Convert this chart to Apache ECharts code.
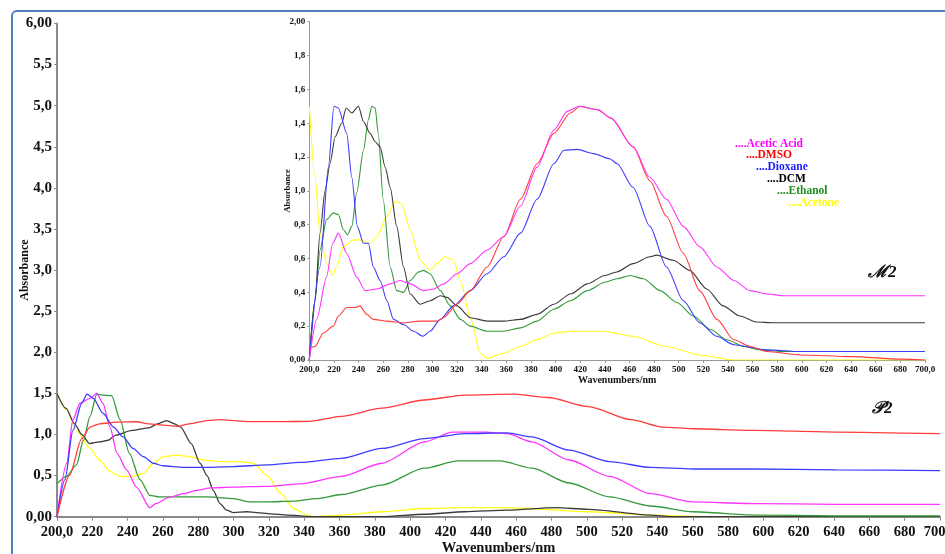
<!DOCTYPE html>
<html>
<head>
<meta charset="utf-8">
<script src="https://cdn.jsdelivr.net/npm/echarts@6/dist/echarts.min.js"></script>
<style>
  html, body { margin: 0; padding: 0; background: #ffffff; }
  #chart { width: 945px; height: 554px; }
</style>
</head>
<body>
<div id="chart"></div>
<script>
// ---- P2 spectra (main panel): [wavelength nm, absorbance] ----
const p2AceticAcid = [[200,0],[205.5,0.65],[209,1.18],[213,1.38],[218.7,1.44],[222.5,1.5],[226,1.38],[230,1.09],[234,0.77],[239.4,0.57],[245,0.36],[252.6,0.11],[256,0.16],[264,0.24],[271.5,0.28],[279,0.32],[287,0.35],[300,0.36],[319,0.37],[338,0.40],[361,0.49],[384,0.65],[408,0.91],[424,1.03],[443,1.03],[455,1.01],[469,0.91],[490,0.69],[513,0.49],[536,0.28],[560,0.18],[595,0.16],[641,0.15],[700,0.15]];
const p2DMSO = [[200,0],[207,0.5],[214,0.95],[218.7,1.09],[224,1.13],[234,1.15],[245,1.155],[252,1.13],[262,1.11],[268,1.10],[275,1.13],[285,1.17],[292,1.18],[300,1.17],[309,1.156],[328,1.156],[343,1.16],[361,1.22],[384,1.32],[408,1.42],[431,1.48],[459,1.49],[478,1.45],[501,1.34],[525,1.18],[543,1.09],[560,1.07],[595,1.05],[641,1.03],[700,1.01]];
const p2Dioxane = [[200,0],[204.5,0.45],[209,1.05],[214,1.38],[217,1.49],[220.6,1.44],[226,1.26],[232,1.09],[237.5,0.97],[243,0.83],[249,0.73],[254.5,0.65],[260,0.62],[271.5,0.6],[286,0.6],[300,0.61],[319,0.63],[338,0.66],[361,0.71],[384,0.83],[408,0.95],[431,1.01],[455,1.02],[469,0.97],[490,0.81],[513,0.67],[536,0.6],[560,0.58],[595,0.58],[641,0.57],[700,0.56]];
const p2DCM = [[200,1.5],[205,1.32],[210,1.13],[214,1.0],[218.5,0.89],[224,0.91],[229,0.93],[233,0.99],[242.5,1.05],[252,1.08],[257,1.13],[262,1.17],[266.6,1.13],[270,1.09],[276,0.89],[281,0.65],[285,0.5],[288.5,0.32],[292.3,0.16],[296,0.08],[300,0.05],[307.5,0.06],[313,0.05],[321,0.035],[330.5,0.02],[338,0.01],[345,0],[384,0],[408,0.03],[431,0.06],[455,0.08],[482,0.11],[501,0.09],[536,0.02],[548,0],[700,0]];
const p2Ethanol = [[200,0.4],[205.5,0.49],[211,0.63],[215,0.93],[218.7,1.22],[222.5,1.49],[226,1.48],[231,1.47],[235.7,1.18],[241,0.77],[247,0.45],[252.6,0.26],[258,0.24],[286,0.24],[300,0.22],[309.5,0.18],[319,0.18],[334,0.19],[347,0.22],[361,0.27],[384,0.385],[408,0.59],[427,0.68],[451,0.68],[469,0.59],[490,0.41],[513,0.24],[536,0.13],[560,0.06],[595,0.02],[641,0.01],[700,0.01]];
const p2Acetone = [[200,1.5],[205.5,1.3],[211,1.05],[218.7,0.83],[224,0.69],[230,0.55],[235.7,0.49],[243,0.49],[249,0.53],[254.7,0.65],[260,0.73],[267.7,0.75],[275,0.73],[283,0.69],[292,0.67],[303.7,0.67],[311,0.65],[319,0.5],[326.7,0.28],[334,0.1],[342,0.02],[345,0],[361,0.02],[384,0.06],[408,0.1],[431,0.11],[455,0.11],[466,0.1],[501,0.06],[536,0.02],[571,0],[700,0]];

// ---- M2 spectra (inset panel) ----
const m2AceticAcid = [[200,0],[206,0.24],[214,0.49],[219,0.69],[223.6,0.75],[230.4,0.63],[238.5,0.49],[245.3,0.41],[254.8,0.42],[265.7,0.45],[273.8,0.47],[282,0.45],[292.8,0.41],[301,0.42],[309,0.45],[320,0.51],[330.8,0.57],[344.4,0.65],[358,0.73],[371.5,0.91],[385,1.14],[398.6,1.36],[409.5,1.47],[419,1.5],[434,1.48],[445,1.43],[463,1.26],[476.6,1.08],[490,0.95],[503.8,0.79],[517,0.67],[531,0.55],[544.7,0.47],[558,0.41],[571.8,0.39],[585,0.38],[700,0.38]];
const m2DMSO = [[200,0.07],[204.6,0.08],[211.4,0.16],[219.5,0.2],[223.6,0.26],[230.4,0.31],[237,0.31],[241,0.32],[246.7,0.27],[252,0.24],[263,0.23],[276.5,0.22],[290,0.23],[303.7,0.23],[309,0.25],[320,0.33],[330.8,0.41],[344.4,0.55],[358,0.73],[371.5,0.95],[385,1.16],[398.6,1.34],[412,1.46],[420,1.5],[434,1.48],[445,1.43],[463,1.26],[476.6,1.06],[490,0.85],[503.8,0.63],[517,0.41],[531,0.24],[544.7,0.12],[558,0.08],[571.8,0.05],[599,0.03],[640,0.02],[680,0.005],[700,0]];
const m2Dioxane = [[200,0],[208.7,0.55],[215.5,1.14],[220,1.5],[223.6,1.49],[230.4,1.34],[234.5,1.08],[239,0.79],[244,0.69],[248,0.69],[252,0.55],[257.5,0.47],[263,0.35],[268.4,0.24],[276.5,0.21],[284.7,0.17],[292.3,0.14],[298,0.17],[306.4,0.24],[317,0.32],[330.8,0.41],[344.4,0.51],[358,0.61],[371.5,0.75],[385,0.95],[398.6,1.16],[406.8,1.24],[417.6,1.245],[431,1.22],[444,1.19],[450,1.16],[463,1.02],[476.6,0.79],[490,0.55],[503.8,0.35],[517,0.22],[531,0.14],[544.7,0.09],[571.8,0.06],[599,0.05],[700,0.05]];
const m2DCM = [[200,0],[204.6,0.35],[208.7,0.75],[212.8,1.0],[216.8,1.16],[221,1.32],[226.3,1.4],[229.9,1.49],[234.5,1.46],[239.9,1.5],[244,1.41],[249.4,1.34],[253.5,1.29],[257.5,1.26],[261.6,1.14],[265.7,1.02],[271,0.79],[276.5,0.55],[281.9,0.39],[290,0.33],[298,0.35],[306.4,0.38],[311.8,0.37],[320,0.32],[330.8,0.25],[344.4,0.23],[358,0.23],[371.5,0.24],[385,0.27],[398.6,0.33],[412,0.39],[425.8,0.45],[440,0.50],[449.7,0.52],[463,0.57],[476.6,0.61],[482,0.62],[495.5,0.59],[509,0.53],[522.7,0.42],[536,0.32],[549.8,0.26],[563,0.225],[577,0.22],[700,0.22]];
const m2Ethanol = [[200,0],[204.6,0.35],[208.7,0.65],[214,0.83],[219.5,0.87],[223.6,0.86],[227.7,0.77],[231,0.74],[234.5,0.79],[238.5,0.99],[244,1.24],[248,1.42],[250.7,1.5],[253.5,1.49],[256,1.34],[260,0.95],[265.7,0.55],[271,0.41],[276.5,0.40],[282,0.47],[288.7,0.52],[292.8,0.53],[298,0.51],[306.4,0.41],[314.5,0.32],[322.7,0.24],[330.8,0.2],[344.4,0.17],[358,0.17],[371.5,0.19],[385,0.23],[398.6,0.30],[412,0.35],[425.8,0.41],[440,0.46],[449.7,0.48],[460.6,0.50],[471.4,0.48],[485,0.41],[498.6,0.34],[512,0.26],[525.8,0.18],[539,0.12],[553,0.08],[566,0.06],[585,0.05],[700,0.05]];
const m2Acetone = [[200,1.5],[204.6,1.08],[208.7,0.75],[214,0.57],[219,0.5],[222,0.55],[227.7,0.67],[236,0.71],[241,0.71],[249,0.69],[255,0.73],[263,0.85],[270.5,0.94],[275,0.92],[282,0.77],[290,0.59],[298,0.53],[303.7,0.57],[310,0.61],[317,0.59],[322.7,0.47],[331,0.24],[339,0.04],[344,0.01],[358,0.04],[371.5,0.08],[385,0.12],[398.6,0.16],[412,0.17],[439,0.17],[463,0.14],[490,0.08],[517,0.03],[544,0.0],[700,0]];

// ---- legend entries and panel tags ----
const solventNames = ['Acetic Acid', 'DMSO', 'Dioxane', 'DCM', 'Ethanol', 'Acetone'];
const panelTags = ['\u2133' + '2', '\uD835\uDCAB' + '2'];

const lineColors = { 'Acetic Acid': '#ff33ff', 'DMSO': '#ff3b3b', 'Dioxane': '#3c3cff', 'DCM': '#3a3a3a', 'Ethanol': '#33993a', 'Acetone': '#ffff1a' };
const legendColors = { 'Acetic Acid': '#ff00ff', 'DMSO': '#ff0000', 'Dioxane': '#1a1aff', 'DCM': '#000000', 'Ethanol': '#1f8f1f', 'Acetone': '#ffff00' };

const serif = '"Liberation Serif", "Times New Roman", serif';

function comma(v, digits) { return v.toFixed(digits).replace('.', ','); }

function line(name, data, axis, width) {
  return {
    type: 'line', name: name, data: data,
    xAxisIndex: axis, yAxisIndex: axis,
    showSymbol: false, smooth: 0.25, smoothMonotone: 'x',
    lineStyle: { color: lineColors[name], width: width },
    itemStyle: { color: lineColors[name] },
    animation: false, z: axis === 1 ? 3 : 2
  };
}

const chart = echarts.init(document.getElementById('chart'), null, { renderer: 'canvas' });

const legendX = [735, 746, 756, 767, 777, 788];
const legendY = [144, 155.5, 167.5, 179, 191, 203];

const graphics = [
  { type: 'rect', shape: { x: 12, y: 11, width: 1000, height: 600, r: 5 }, style: { fill: 'none', stroke: '#4f81bd', lineWidth: 2 }, silent: true, z: 0 }
];
solventNames.forEach(function (n, i) {
  graphics.push({
    type: 'text', x: legendX[i], y: legendY[i],
    style: { text: '....' + n, fill: legendColors[n], font: 'bold 11.5px ' + serif, textVerticalAlign: 'middle' },
    z: 10
  });
});
graphics.push({ type: 'text', x: 868, y: 273, style: { text: panelTags[0], fill: '#111', font: 'italic bold 17px ' + serif, textVerticalAlign: 'middle' }, z: 10 });
graphics.push({ type: 'text', x: 872, y: 409, style: { text: panelTags[1], fill: '#111', font: 'italic bold 17px ' + serif, textVerticalAlign: 'middle' }, z: 10 });

const option = {
  backgroundColor: '#ffffff',
  animation: false,
  grid: [
    { left: 57, top: 23.5, width: 883, height: 493.2, containLabel: false, outerBoundsMode: 'none' },
    { left: 309.3, top: 21.7, width: 615.7, height: 338.3, containLabel: false, outerBoundsMode: 'none' }
  ],
  xAxis: [
    {
      gridIndex: 0, type: 'value', min: 200, max: 700, interval: 20,
      name: 'Wavenumbers/nm', nameLocation: 'middle', nameGap: 24, nameMoveOverlap: false,
      nameTextStyle: { fontFamily: serif, fontWeight: 'bold', fontSize: 14.5, color: '#111', verticalAlign: 'top' },
      axisLine: { lineStyle: { color: '#8a8a8a', width: 2 } },
      axisTick: { show: true, length: 4, lineStyle: { color: '#8a8a8a', width: 1 } },
      axisLabel: {
        margin: 8, fontFamily: serif, fontWeight: 'bold', fontSize: 14.5, color: '#111',
        showMinLabel: true, showMaxLabel: true, hideOverlap: false,
        formatter: function (v) { return (v === 200 || v === 700) ? comma(v, 1) : String(v); }
      },
      splitLine: { show: false }
    },
    {
      gridIndex: 1, type: 'value', min: 200, max: 700, interval: 20,
      name: 'Wavenumbers/nm', nameLocation: 'middle', nameGap: 15, nameMoveOverlap: false,
      nameTextStyle: { fontFamily: serif, fontWeight: 'bold', fontSize: 10, color: '#111', verticalAlign: 'top' },
      axisLine: { lineStyle: { color: '#999999', width: 1 } },
      axisTick: { show: true, length: 3, lineStyle: { color: '#999999' } },
      axisLabel: {
        margin: 5, fontFamily: serif, fontWeight: 'bold', fontSize: 9, color: '#111',
        showMinLabel: true, showMaxLabel: true, hideOverlap: false,
        formatter: function (v) { return (v === 200 || v === 700) ? comma(v, 1) : String(v); }
      },
      splitLine: { show: false }
    }
  ],
  yAxis: [
    {
      gridIndex: 0, type: 'value', min: 0, max: 6, interval: 0.5,
      name: 'Absorbance', nameLocation: 'middle', nameGap: 26, nameRotate: 90, nameMoveOverlap: false,
      nameTextStyle: { fontFamily: serif, fontWeight: 'bold', fontSize: 12, color: '#111' },
      axisLine: { show: true, lineStyle: { color: '#8a8a8a', width: 2 } },
      axisTick: { show: true, length: 3, lineStyle: { color: '#8a8a8a' } },
      axisLabel: {
        margin: 5, fontFamily: serif, fontWeight: 'bold', fontSize: 15, color: '#111',
        formatter: function (v) { return (v === 0 || v === 6) ? comma(v, 2) : comma(v, 1); }
      },
      splitLine: { show: false }
    },
    {
      gridIndex: 1, type: 'value', min: 0, max: 2, interval: 0.2,
      name: 'Absorbance', nameLocation: 'middle', nameGap: 17, nameRotate: 90, nameMoveOverlap: false,
      nameTextStyle: { fontFamily: serif, fontWeight: 'bold', fontSize: 8.5, color: '#111' },
      axisLine: { show: true, lineStyle: { color: '#999999', width: 1 } },
      axisTick: { show: true, length: 2, lineStyle: { color: '#999999' } },
      axisLabel: {
        margin: 4, fontFamily: serif, fontWeight: 'bold', fontSize: 9, color: '#111',
        formatter: function (v) { return (Math.abs(v) < 1e-9 || Math.abs(v - 2) < 1e-9) ? comma(v, 2) : comma(v, 1); }
      },
      splitLine: { show: false }
    }
  ],
  series: [
    line('Acetone', p2Acetone, 0, 1.3),
    line('DCM', p2DCM, 0, 1.3),
    line('Ethanol', p2Ethanol, 0, 1.3),
    line('Acetic Acid', p2AceticAcid, 0, 1.3),
    line('Dioxane', p2Dioxane, 0, 1.3),
    line('DMSO', p2DMSO, 0, 1.3),
    line('Acetone', m2Acetone, 1, 1.1),
    line('Ethanol', m2Ethanol, 1, 1.1),
    line('DCM', m2DCM, 1, 1.1),
    line('Dioxane', m2Dioxane, 1, 1.1),
    line('DMSO', m2DMSO, 1, 1.1),
    line('Acetic Acid', m2AceticAcid, 1, 1.1)
  ],
  graphic: graphics
};

chart.setOption(option);
</script>
</body>
</html>
